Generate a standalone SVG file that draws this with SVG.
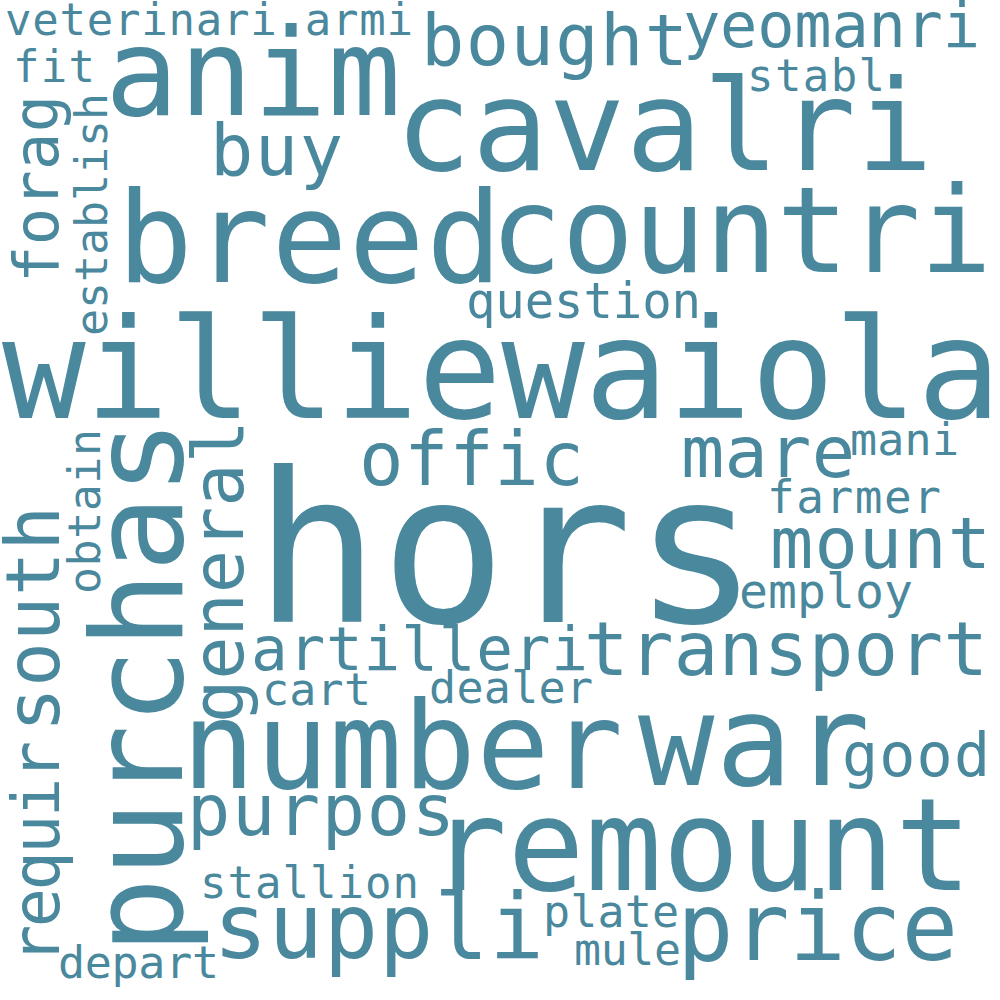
<svg xmlns="http://www.w3.org/2000/svg" width="1000" height="1000" viewBox="0 0 1000 1000">
<style>
text{font-family:"DejaVu Sans Mono","Liberation Mono",monospace;fill:#4a889d}
</style>
<rect width="1000" height="1000" fill="#ffffff"/>
<g id="words">
<text x="5" y="35" font-size="44" textLength="408">veterinari armi</text>
<text x="105" y="115" font-size="122" textLength="296">anim</text>
<text x="421" y="65" font-size="72" textLength="267">bought</text>
<text x="683" y="47" font-size="62" textLength="297">yeomanri</text>
<text x="13" y="82" font-size="44" textLength="82">fit</text>
<text x="747" y="91" font-size="44" textLength="138">stabl</text>
<text x="395" y="170" font-size="127" textLength="538">cavalri</text>
<text x="210" y="175" font-size="72" textLength="133">buy</text>
<text x="117" y="282" font-size="126" textLength="385">breed</text>
<text x="490" y="272" font-size="120" textLength="502">countri</text>
<text x="466" y="318" font-size="49" textLength="235">question</text>
<text x="2" y="418" font-size="139" textLength="999">williewaiola</text>
<text x="359" y="485" font-size="74" textLength="225">offic</text>
<text x="254" y="622" font-size="209" textLength="505">hors</text>
<text x="681" y="477" font-size="72" textLength="174">mare</text>
<text x="850" y="455" font-size="45" textLength="109">mani</text>
<text x="767" y="513" font-size="46" textLength="174">farmer</text>
<text x="770" y="568" font-size="72" textLength="221">mount</text>
<text x="739" y="608" font-size="48" textLength="174">employ</text>
<text x="251" y="670" font-size="61" textLength="337">artilleri</text>
<text x="584" y="675" font-size="74" textLength="404">transport</text>
<text x="262" y="705" font-size="45" textLength="109">cart</text>
<text x="429" y="703" font-size="45" textLength="164">dealer</text>
<text x="182" y="788" font-size="121" textLength="441">number</text>
<text x="638" y="785" font-size="127" textLength="232">war</text>
<text x="842" y="776" font-size="60" textLength="148">good</text>
<text x="187" y="835" font-size="72" textLength="268">purpos</text>
<text x="200" y="898" font-size="44" textLength="219">stallion</text>
<text x="213" y="958" font-size="91" textLength="331">suppli</text>
<text x="58" y="978" font-size="45" textLength="161">depart</text>
<text x="430" y="890" font-size="128" textLength="542">remount</text>
<text x="677" y="960" font-size="94" textLength="281">price</text>
<text x="543" y="927" font-size="45" textLength="136">plate</text>
<text x="574" y="965" font-size="45" textLength="107">mule</text>
<text transform="translate(58,283) rotate(-90)" font-size="62" textLength="188">forag</text>
<text transform="translate(107,336) rotate(-90)" font-size="45" textLength="243">establish</text>
<text transform="translate(182,954) rotate(-90)" font-size="127" textLength="535">purchas</text>
<text transform="translate(100,594) rotate(-90)" font-size="45" textLength="165">obtain</text>
<text transform="translate(243,723) rotate(-90)" font-size="72" textLength="303">general</text>
<text transform="translate(59,732) rotate(-90)" font-size="74" textLength="226">south</text>
<text transform="translate(59,964) rotate(-90)" font-size="65" textLength="223">requir</text>
</g>
</svg>
